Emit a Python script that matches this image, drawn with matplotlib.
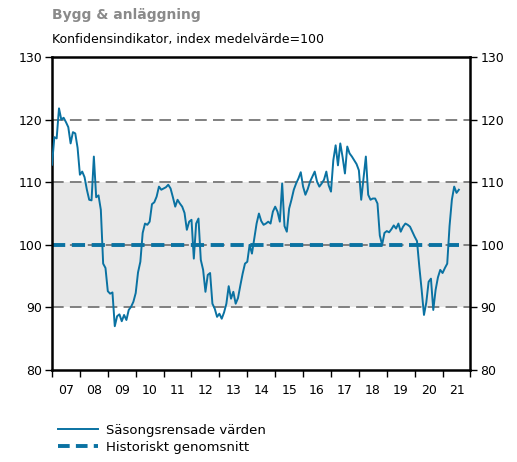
import numpy as np
import matplotlib
matplotlib.use("Agg")
import matplotlib.pyplot as plt
from matplotlib.lines import Line2D

start_year = 2007
values = [
    112.8, 117.2, 117.0, 121.8, 120.0, 120.3, 119.6, 118.8, 116.2, 118.0, 117.8, 115.5,
    111.2, 111.7, 110.8, 108.8, 107.2, 107.1, 114.1, 107.6, 107.9, 105.6, 97.0, 96.3,
    92.6, 92.2, 92.4, 87.0, 88.6, 88.9, 87.8, 88.8, 88.0, 89.6, 90.1, 90.9,
    92.3, 95.6, 97.3, 101.9, 103.4, 103.2, 103.7, 106.5, 106.8, 107.7, 109.3, 108.8,
    109.0, 109.2, 109.6, 109.0, 107.6, 106.1, 107.2, 106.6, 106.1, 105.1, 102.4, 103.7,
    104.0, 97.8, 103.4, 104.2, 97.6, 96.0, 92.5, 95.2, 95.5, 90.6, 89.8, 88.5,
    89.0, 88.2, 89.2, 90.6, 93.4, 91.4, 92.5, 90.6, 91.5, 93.5, 95.4, 97.0,
    97.3, 100.0, 98.6, 101.0, 103.4, 105.0, 103.8, 103.2, 103.4, 103.7, 103.4, 105.3,
    106.1, 105.3, 103.7, 109.8, 103.0, 102.1, 105.8, 107.2, 108.8, 109.8, 110.6, 111.6,
    109.3, 108.0, 108.9, 110.1, 110.9, 111.7, 110.1, 109.3, 109.8, 110.4, 111.7, 109.5,
    108.5, 113.5, 115.9, 112.7, 116.2, 114.0, 111.4, 115.7, 114.6, 114.1, 113.5, 112.9,
    111.9, 107.2, 110.6, 114.1, 108.0, 107.2, 107.4, 107.4, 106.6, 101.5, 100.0, 101.9,
    102.2, 102.0, 102.5, 103.1, 102.6, 103.4, 102.1, 102.9, 103.4, 103.2, 102.9, 102.1,
    101.3, 100.6, 96.5, 92.8, 88.8, 90.8, 94.1, 94.6, 89.6, 92.8, 94.8, 96.0,
    95.5, 96.3, 97.0, 103.0, 107.2, 109.3, 108.3, 108.8,
]
hist_avg = 100
band = (90, 110)
grid_levels = [90, 100, 110, 120]
year_labels = [f"{y % 100:02d}" for y in range(2007, 2022)]
yticks = [80, 90, 100, 110, 120, 130]

blue = "#0a72a2"
gray = "#808080"

x = start_year + np.arange(len(values)) / 12.0

fig = plt.figure(figsize=(5.17, 4.62), dpi=100)
ax = fig.add_axes([0.1006, 0.199, 0.8094, 0.6776])

ax.axhspan(band[0], band[1], color="#e8e8e8", zorder=0, lw=0)
for lv in grid_levels:
    ax.axhline(lv, color=gray, lw=1.4, dashes=(6, 3.2), zorder=1)

ax.plot([x[0], x[-1]], [hist_avg, hist_avg], color=blue, lw=2.8, dashes=(3.4, 1.7), zorder=2)
ax.plot(x, values, color=blue, lw=1.4, zorder=3)

ax.set_xlim(2007, 2022)
ax.set_ylim(80, 130)
ax.set_yticks(yticks)
ax.tick_params(axis="y", which="both", left=True, right=True, labelleft=True, labelright=True,
               direction="out", length=5, width=1, labelsize=9, pad=2)
ax.set_xticks(np.arange(2007, 2023))
ax.set_xticklabels([])
ax.set_xticks(np.arange(2007, 2022) + 0.5, minor=True)
ax.set_xticklabels(year_labels, minor=True)
ax.tick_params(axis="x", which="major", direction="out", length=5, width=1)
ax.tick_params(axis="x", which="minor", length=0, labelsize=9, pad=10)

for s in ax.spines.values():
    s.set_linewidth(1.8)
    s.set_color("black")

fig.text(52 / 517, 1 - 15 / 462, "Bygg & anläggning", fontsize=10, fontweight="bold",
         color="#8a8a8a", va="center", ha="left")
fig.text(52 / 517, 1 - 40 / 462, "Konfidensindikator, index medelvärde=100", fontsize=9,
         color="black", va="center", ha="left")

handles = [Line2D([], [], color=blue, lw=1.4),
           Line2D([], [], color=blue, lw=2.8, dashes=(3, 1.6))]
fig.legend(handles, ["Säsongsrensade värden", "Historiskt genomsnitt"],
           loc="upper left", bbox_to_anchor=(58 / 517, 1 - 424 / 462), frameon=False,
           fontsize=9.5, handlelength=3.0, handletextpad=0.6, labelspacing=0.3,
           borderaxespad=0, borderpad=0)

fig.savefig("out.png", dpi=100)
